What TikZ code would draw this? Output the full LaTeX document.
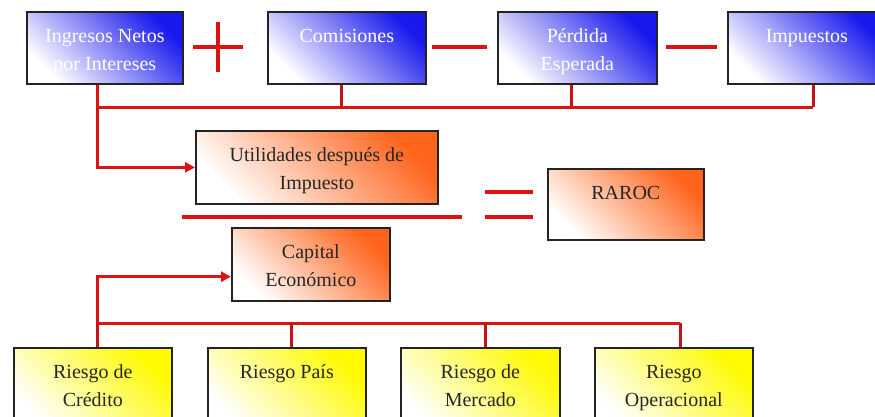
\documentclass[tikz,border=0pt]{standalone}
\usepackage{fontspec}
\setmainfont{Liberation Serif}
\usetikzlibrary{arrows.meta,calc}
\definecolor{lnred}{RGB}{222,18,18}
\definecolor{dropred}{RGB}{195,20,25}
\definecolor{bxblue}{RGB}{25,25,238}
\definecolor{bxorange}{RGB}{255,100,28}
\definecolor{bxyellow}{RGB}{255,250,0}
\definecolor{bxedge}{RGB}{35,35,35}
\newcommand{\bxtxt}[3]{\parbox[t][#2][t]{#1}{\centering\fontsize{20}{28}\selectfont\rule{0pt}{31pt}#3}}
\tikzset{
  bx/.style={draw=bxedge, line width=1.7pt, inner sep=0pt, anchor=north west,
    bottom color=white, top color=#1, shading angle=-45},
  bluebx/.style={bx=bxblue, text=white},
  orangebx/.style={bx=bxorange, text=black!85},
  yellowbx/.style={bx=bxyellow, text=black!85},
  bus/.style={draw=lnred, line width=3pt},
  drop/.style={draw=dropred, line width=3pt},
  arr/.style={bus, -{Triangle[length=10pt,width=10pt]}},
  sign/.style={draw=lnred, line width=3.6pt},
}
\begin{document}
\begin{tikzpicture}[x=1pt,y=-1pt]
\useasboundingbox (0,0) rectangle (875,416);
\clip (0,0) rectangle (875,416);
\fill[white] (0,0) rectangle (875,416);
% top row
\node[bluebx] (b1) at (26,11) {\bxtxt{156pt}{72pt}{Ingresos Netos\\por Intereses}};
\node[bluebx] (b2) at (267,11) {\bxtxt{158pt}{72pt}{Comisiones}};
\node[bluebx] (b3) at (497,11) {\bxtxt{159pt}{72pt}{Pérdida\\Esperada}};
\node[bluebx] (b4) at (727,11) {\bxtxt{158pt}{72pt}{Impuestos}};
% middle
\node[orangebx] (util) at (195,130) {\bxtxt{242pt}{73pt}{Utilidades después de\\Impuesto}};
\node[orangebx] (raroc) at (547,168) {\bxtxt{156pt}{71pt}{RAROC}};
\node[orangebx] (cap) at (231,227) {\bxtxt{158pt}{73pt}{Capital\\Económico}};
% bottom row
\node[yellowbx] (r1) at (13,347) {\bxtxt{158pt}{80pt}{Riesgo de\\Crédito}};
\node[yellowbx] (r2) at (207,347) {\bxtxt{158pt}{80pt}{Riesgo País}};
\node[yellowbx] (r3) at (400,347) {\bxtxt{159pt}{80pt}{Riesgo de\\Mercado}};
\node[yellowbx] (r4) at (594,347) {\bxtxt{158pt}{80pt}{Riesgo\\Operacional}};
% operator signs
\draw[sign] (193,47) -- (243,47);
\draw[sign] (218,22) -- (218,72);
\draw[sign] (432,47) -- (487,47);
\draw[sign] (666,47) -- (717,47);
\draw[sign] (182,217) -- (462,217);
\draw[sign] (485,192) -- (533,192);
\draw[sign] (485,217) -- (533,217);
% top bus
\coordinate (t1) at (97,107);
\coordinate (t2) at (341,107);
\coordinate (t3) at (571,107);
\coordinate (t4) at (813,107);
\draw[bus] (t1) -- (t4);
\draw[drop] (b2.south -| t2) -- (t2);
\draw[drop] (b3.south -| t3) -- (t3);
\draw[drop] (b4.south -| t4) -- (t4);
\draw[arr] (b1.south -| t1) |- (util.west);
% bottom bus
\coordinate (u1) at (97,323);
\coordinate (u2) at (291,323);
\coordinate (u3) at (485,323);
\coordinate (u4) at (680,323);
\draw[bus] (u1) -- (u4);
\draw[drop] (u1) -- (r1.north -| u1);
\draw[drop] (u2) -- (r2.north -| u2);
\draw[drop] (u3) -- (r3.north -| u3);
\draw[drop] (u4) -- (r4.north -| u4);
\draw[arr] (u1) |- ($(cap.south west)+(0,-25)$);
\end{tikzpicture}
\end{document}
